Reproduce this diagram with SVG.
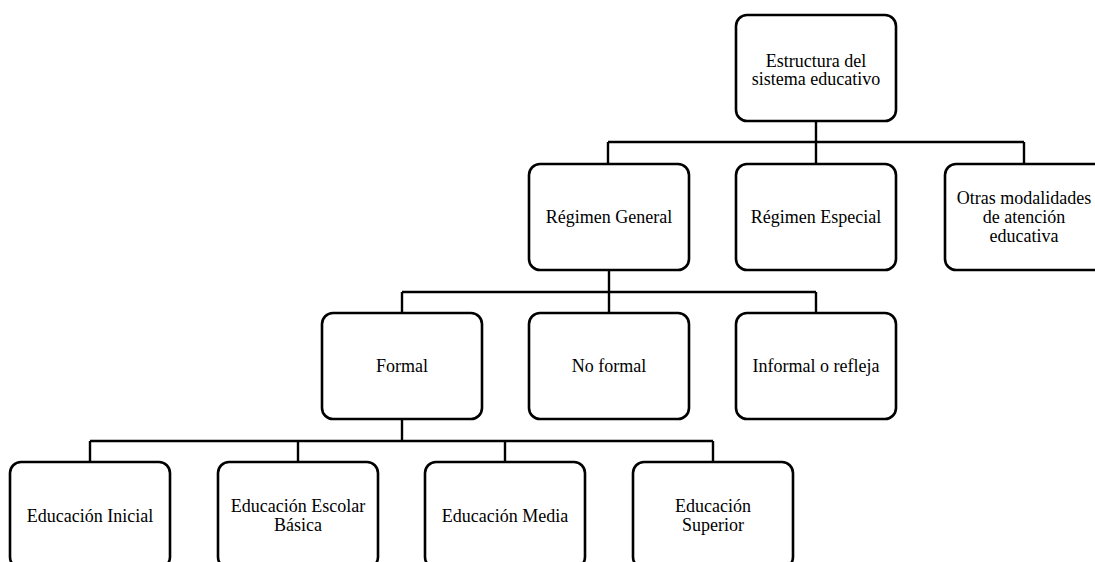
<svg xmlns="http://www.w3.org/2000/svg" width="1095" height="562" viewBox="0 0 1095 562">
<style>
.box{fill:#fff;stroke:#000;stroke-width:2.6}
.lbl{font-size:18px;fill:#000;text-anchor:middle}
.conn{fill:none;stroke:#000;stroke-width:2.4}
</style>
<rect width="1095" height="562" fill="#fff"/>
<g id="connectors">
<path class="conn" d="M816 121V142M608 142H1024M608 142V164M816 142V164M1024 142V164"/>
<path class="conn" d="M609 270V292M402 292H816M402 292V313M609 292V313M816 292V313"/>
<path class="conn" d="M402 419V441M90 441H713M90 441V462M298 441V462M505 441V462M713 441V462"/>
</g>
<g font-family="'Liberation Serif', 'Times New Roman', Tinos, 'DejaVu Serif', serif">
<g id="root"><rect class="box" x="736" y="15" width="160" height="106" rx="11"/><text class="lbl" x="816" y="67">Estructura del</text><text class="lbl" x="816" y="85">sistema educativo</text></g>
<g id="regimen-general"><rect class="box" x="529" y="164" width="160" height="106" rx="11"/><text class="lbl" x="609" y="223">Régimen General</text></g>
<g id="regimen-especial"><rect class="box" x="736" y="164" width="160" height="106" rx="11"/><text class="lbl" x="816" y="223">Régimen Especial</text></g>
<g id="otras"><rect class="box" x="945" y="164" width="160" height="106" rx="11"/><text class="lbl" x="1024" y="204">Otras modalidades</text><text class="lbl" x="1024" y="223">de atención</text><text class="lbl" x="1024" y="242">educativa</text></g>
<g id="formal"><rect class="box" x="322" y="313" width="160" height="106" rx="11"/><text class="lbl" x="402" y="372">Formal</text></g>
<g id="no-formal"><rect class="box" x="529" y="313" width="160" height="106" rx="11"/><text class="lbl" x="609" y="372">No formal</text></g>
<g id="informal"><rect class="box" x="736" y="313" width="160" height="106" rx="11"/><text class="lbl" x="816" y="372">Informal o refleja</text></g>
<g id="inicial"><rect class="box" x="10" y="462" width="160" height="106" rx="11"/><text class="lbl" x="90" y="522">Educación Inicial</text></g>
<g id="escolar-basica"><rect class="box" x="218" y="462" width="160" height="106" rx="11"/><text class="lbl" x="298" y="512">Educación Escolar</text><text class="lbl" x="298" y="531">Básica</text></g>
<g id="media"><rect class="box" x="425" y="462" width="160" height="106" rx="11"/><text class="lbl" x="505" y="522">Educación Media</text></g>
<g id="superior"><rect class="box" x="633" y="462" width="160" height="106" rx="11"/><text class="lbl" x="713" y="512">Educación</text><text class="lbl" x="713" y="531">Superior</text></g>
</g>
</svg>
